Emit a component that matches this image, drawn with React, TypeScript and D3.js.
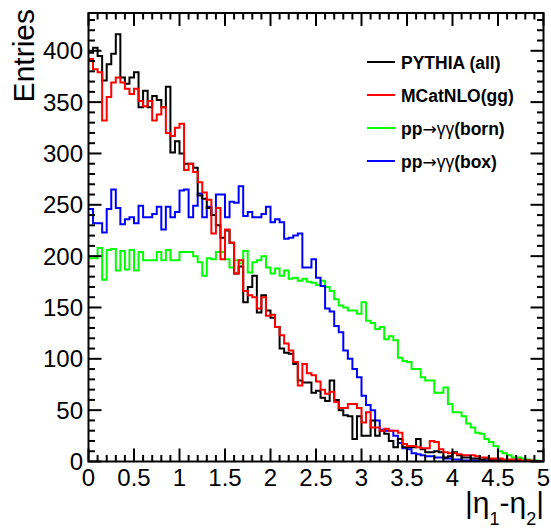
import React from "react";
import * as d3 from "d3";

const binWidth = 0.05;

const pythiaAll = [398,403,395,371,387,397,416,374,368,374,379,345,361,345,356,352,345,365,301,312,
300,290,290,286,259,256,247,240,230,218,225,213,183,190,155,170,181,145,162,147,
140,131,110,106,105,95,79,77,77,67,69,62,59,79,60,50,45,44,22,44,
25,25,40,25,30,27,20,14,22,14,14,14,22,12,9,9,10,9,4,5,
9,6,4,4,3,3,2,3,2,1,2,1,1,0,1,0,1,0,0,0];

const mcatnloGG = [392,382,379,332,355,369,374,369,363,358,363,351,346,351,332,338,345,320,317,325,
329,284,290,282,272,262,255,222,247,197,226,213,183,196,166,162,160,149,160,142,
143,131,123,115,108,97,74,95,86,84,78,70,66,68,58,52,52,56,56,52,
38,48,33,33,30,32,30,30,28,17,15,15,14,13,13,20,19,12,9,8,
8,7,6,6,6,5,4,4,3,3,3,2,2,2,2,1,1,1,0,0];

const bornGG = [198,198,208,177,206,207,186,205,187,206,186,204,196,196,196,204,196,206,196,196,
204,204,204,200,194,181,198,197,204,204,197,189,196,193,205,184,194,196,200,189,
183,188,181,186,178,179,176,178,175,174,172,176,170,166,158,152,150,147,147,144,
155,137,135,129,131,119,122,118,101,98,97,90,90,82,79,79,67,67,72,56,
48,48,44,37,33,28,27,22,19,15,10,8,6,4,4,3,2,1,1,0];

const boxGG = [246,232,232,223,246,265,247,231,236,238,232,249,238,238,241,248,226,248,238,243,
264,265,238,249,261,238,248,240,260,260,238,253,252,268,239,243,238,238,241,248,
233,236,233,217,218,220,222,189,189,197,179,171,149,146,132,126,108,100,90,82,
64,55,50,40,31,30,30,25,18,13,12,8,7,6,5,5,4,4,3,3,
2,2,1,1,1,1,1,1,1,1,1,1,1,1,0,0,0,0,0,0];

const seriesNames = ["PYTHIA (all)", "MCatNLO(gg)", "pp\u2192\u03b3\u03b3(born)", "pp\u2192\u03b3\u03b3(box)"];
const seriesColors = ["#000000", "#ff0000", "#00ff00", "#0000ff"];
const seriesData = [pythiaAll, mcatnloGG, bornGG, boxGG];
const drawOrder = [2, 3, 0, 1];

const xTickLabels = ["0", "0.5", "1", "1.5", "2", "2.5", "3", "3.5", "4", "4.5", "5"];
const yTickValues = [0, 50, 100, 150, 200, 250, 300, 350, 400];

const X_MIN = 0, X_MAX = 5, Y_MAX = 436.8;
const L = 88.5, R = 543.5, T = 13, B = 461.5;
const FONT = "'Liberation Sans', Arial, Helvetica, sans-serif";

export default function App() {
  const x = d3.scaleLinear().domain([X_MIN, X_MAX]).range([L, R]);
  const y = d3.scaleLinear().domain([0, Y_MAX]).range([B, T]);

  const line = d3.line<[number, number]>()
    .x((d) => x(d[0]))
    .y((d) => y(d[1]))
    .curve(d3.curveStepAfter);

  const pathFor = (vals: number[]) => {
    const pts: [number, number][] = vals.map((v, i) => [i * binWidth, v]);
    pts.push([vals.length * binWidth, vals[vals.length - 1]]);
    return line(pts) as string;
  };

  const xMinor = d3.range(0, 51).map((i) => i * 0.1);
  const yMinor = d3.range(0, 44).map((i) => i * 10);

  return (
    <svg width={551} height={528} style={{ display: "block", position: "absolute", left: 0, top: 0, background: "#fff" }} fontFamily={FONT}>
      <rect x={0} y={0} width={551} height={528} fill="#fff" />
      <defs>
        <clipPath id="frameClip">
          <rect x={L} y={T} width={R - L} height={B - T} />
        </clipPath>
      </defs>
      <g clipPath="url(#frameClip)">
        {drawOrder.map((k) => (
          <path key={k} d={pathFor(seriesData[k])} fill="none" stroke={seriesColors[k]} strokeWidth={2} />
        ))}
      </g>
      {/* ticks */}
      <g stroke="#000" strokeWidth={2}>
        {xMinor.map((v, i) => {
          const len = i % 5 === 0 ? 13 : 6.5;
          const xx = x(v);
          return (
            <g key={"xt" + i}>
              <line x1={xx} x2={xx} y1={B} y2={B - len} />
              <line x1={xx} x2={xx} y1={T} y2={T + len} />
            </g>
          );
        })}
        {yMinor.map((v, i) => {
          const len = i % 5 === 0 ? 13 : 6.5;
          const yy = y(v);
          return (
            <g key={"yt" + i}>
              <line x1={L} x2={L + len} y1={yy} y2={yy} />
              <line x1={R} x2={R - len} y1={yy} y2={yy} />
            </g>
          );
        })}
      </g>
      <rect x={L} y={T} width={R - L} height={B - T} fill="none" stroke="#000" strokeWidth={2} />
      {/* tick labels */}
      <g fontSize={24} fill="#000">
        {xTickLabels.map((t, i) => (
          <text key={"xl" + i} x={x(i * 0.5)} y={486} textAnchor="middle">{t}</text>
        ))}
        {yTickValues.map((v) => (
          <text key={"yl" + v} x={83} y={y(v) + 8.5} textAnchor="end">{v}</text>
        ))}
      </g>
      {/* axis titles */}
      <text transform="translate(34,9) rotate(-90)" textAnchor="end" fontSize={30}>Entries</text>
      <text x={544} y={513} textAnchor="end" fontSize={30}>
        |η<tspan fontSize={18} dy={12}>1</tspan><tspan dy={-12}>-η</tspan><tspan fontSize={18} dy={12}>2</tspan><tspan dy={-12}>|</tspan>
      </text>
      {/* legend */}
      <g>
        {seriesNames.map((n, i) => {
          const cy = 62 + i * 33;
          const parts = n.split("\u2192");
          return (
            <g key={"lg" + i}>
              <line x1={367} x2={395} y1={cy} y2={cy} stroke={seriesColors[i]} strokeWidth={2} />
              <text x={401} y={cy + 6.5} fontSize={17.5} fontWeight="bold">
                {parts.length === 1 ? n : (
                  <>
                    {parts[0]}
                    <tspan fontWeight="normal" fontFamily="'DejaVu Sans', sans-serif" fontSize={17}>{"\u2192"}</tspan>
                    <tspan fontWeight="normal">{parts[1].slice(0, 2)}</tspan>
                    {parts[1].slice(2)}
                  </>
                )}
              </text>
            </g>
          );
        })}
      </g>
    </svg>
  );
}
